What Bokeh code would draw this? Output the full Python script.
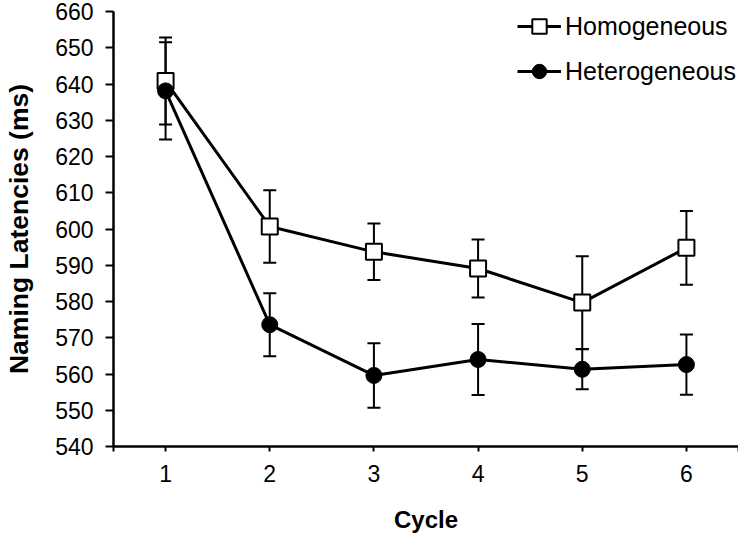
from bokeh.plotting import figure
from bokeh.models import ColumnDataSource, Whisker, TeeHead, Legend, LegendItem, FixedTicker
from bokeh.embed import file_html
from bokeh.resources import INLINE

# data
cycles = [1, 2, 3, 4, 5, 6]
homogeneous = [640.8, 600.7, 593.7, 589.1, 579.7, 594.8]
homogeneous_err = [12.0, 10.0, 7.8, 8.0, 12.8, 10.2]
heterogeneous = [638.1, 573.6, 559.6, 564.0, 561.3, 562.6]
heterogeneous_err = [13.4, 8.7, 8.9, 9.8, 5.5, 8.3]
y_ticks = [540, 550, 560, 570, 580, 590, 600, 610, 620, 630, 640, 650, 660]

FONT = "Liberation Sans"

hom = ColumnDataSource(data=dict(
    x=cycles, y=homogeneous,
    upper=[v + e for v, e in zip(homogeneous, homogeneous_err)],
    lower=[v - e for v, e in zip(homogeneous, homogeneous_err)],
))
het = ColumnDataSource(data=dict(
    x=cycles, y=heterogeneous,
    upper=[v + e for v, e in zip(heterogeneous, heterogeneous_err)],
    lower=[v - e for v, e in zip(heterogeneous, heterogeneous_err)],
))

p = figure(
    width=738, height=536,
    x_range=(0.5, 6.5), y_range=(540, 660),
    x_axis_label="Cycle", y_axis_label="Naming Latencies (ms)",
    toolbar_location=None, output_backend="svg",
    min_border_left=113, min_border_right=0, min_border_top=11, min_border_bottom=90,
)
p.outline_line_color = None
p.xgrid.visible = False
p.ygrid.visible = False

# connecting lines
l_hom = p.line("x", "y", source=hom, line_color="black", line_width=3)
l_het = p.line("x", "y", source=het, line_color="black", line_width=3)

# error bars
for src in (hom, het):
    w = Whisker(base="x", upper="upper", lower="lower", source=src,
                line_color="black", line_width=2,
                upper_head=TeeHead(size=13, line_color="black", line_width=2),
                lower_head=TeeHead(size=13, line_color="black", line_width=2))
    p.add_layout(w)

m_hom = p.scatter("x", "y", source=hom, marker="square", size=16,
                  fill_color="white", line_color="black", line_width=2)
m_het = p.scatter("x", "y", source=het, marker="circle", size=16,
                  fill_color="black", line_color="black")

legend = Legend(items=[
    LegendItem(label="Homogeneous", renderers=[l_hom, m_hom]),
    LegendItem(label="Heterogeneous", renderers=[l_het, m_het]),
], location=(404, 357))
legend.glyph_width = 44
legend.glyph_height = 36
legend.label_height = 36
legend.spacing = 9
legend.padding = 0
legend.margin = 0
legend.label_standoff = 4
legend.border_line_color = None
legend.background_fill_alpha = 0
legend.label_text_font = FONT
legend.label_text_font_size = "25px"
legend.label_text_color = "black"
p.add_layout(legend)

# axes
p.xaxis.ticker = FixedTicker(ticks=[0.5] + cycles + [6.5])
p.xaxis.major_label_overrides = {0.5: "", 6.5: ""}
p.yaxis.ticker = FixedTicker(ticks=y_ticks)
for ax in (p.xaxis, p.yaxis):
    ax.axis_line_width = 2.5
    ax.axis_line_color = "black"
    ax.major_tick_line_width = 2
    ax.major_tick_line_color = "black"
    ax.major_tick_in = 0
    ax.minor_tick_line_color = None
    ax.major_label_text_font = FONT
    ax.major_label_text_font_size = "23px"
    ax.major_label_text_color = "black"
    ax.axis_label_text_font = FONT
    ax.axis_label_text_font_style = "bold"
    ax.axis_label_text_color = "black"
p.yaxis.major_tick_out = 8
p.xaxis.major_tick_out = 5
p.yaxis.major_label_standoff = 12
p.xaxis.major_label_standoff = 13
p.xaxis.axis_label_standoff = 21
p.yaxis.axis_label_standoff = 18
p.xaxis.axis_label_text_font_size = "24px"
p.yaxis.axis_label_text_font_size = "26.5px"

open("out.html", "w").write(file_html(p, INLINE))
